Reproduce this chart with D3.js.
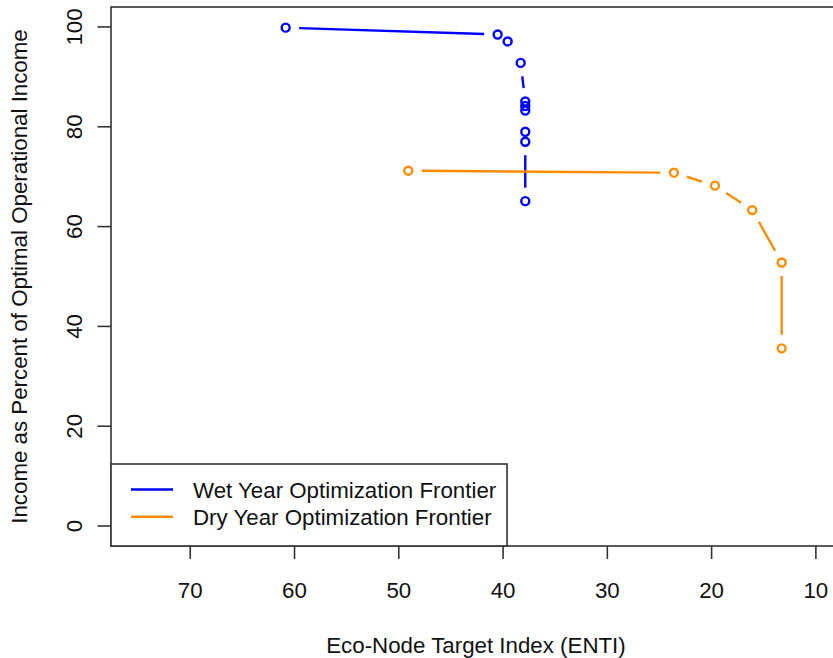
<!DOCTYPE html>
<html lang="en">
<head>
<meta charset="UTF-8">
<title>Optimization Frontier</title>
<style>
body { margin: 0; background: #fff; }
text {
  font-family: "Liberation Sans", Arial, Helvetica, sans-serif;
  font-size: 22.3px;
  fill: #111;
}
.frame { fill: none; stroke: #333; stroke-width: 1.6px; }
.tick { stroke: #333; stroke-width: 1.6px; }
.seg { fill: none; stroke-width: 2.4px; }
.pt { fill: none; stroke-width: 2.4px; }
</style>
</head>
<body>
<script src="https://d3js.org/d3.v7.min.js"></script>
<script>
// data
var wetX = [60.85, 40.52, 39.56, 38.31, 37.87, 37.87, 37.87, 37.87, 37.87, 37.87];
var wetY = [99.86, 98.5, 97.1, 92.8, 85.07, 84.17, 83.27, 79.0, 77.0, 65.1];
var dryX = [49.09, 23.61, 19.68, 16.1, 13.28, 13.28];
var dryY = [71.2, 70.8, 68.2, 63.3, 52.8, 35.6];
var xTicks = [70, 60, 50, 40, 30, 20, 10];
var yTicks = [0, 20, 40, 60, 80, 100];
var seriesNames = ["Wet Year Optimization Frontier", "Dry Year Optimization Frontier"];
var seriesColors = ["#0000ff", "#ff8c00"];

var width = 833, height = 658;
// plot box (right side falls outside the window)
var boxL = 111, boxT = 7, boxR = 843, boxB = 546;
var gap = 13.5; // type="b" style gap around points

var svg = d3.select("body").append("svg")
    .attr("width", width)
    .attr("height", height);

// xlim c(75,10), ylim c(0,100) with 4% padding
var x = d3.scaleLinear().domain([77.6, 7.4]).range([boxL, boxR]);
var y = d3.scaleLinear().domain([-4, 104]).range([boxB, boxT]);

var series = [
  { name: seriesNames[0], color: seriesColors[0], pts: d3.zip(wetX, wetY) },
  { name: seriesNames[1], color: seriesColors[1], pts: d3.zip(dryX, dryY) }
];

function segments(pts) {
  var out = [];
  for (var i = 0; i < pts.length - 1; i++) {
    var x0 = x(pts[i][0]), y0 = y(pts[i][1]),
        x1 = x(pts[i + 1][0]), y1 = y(pts[i + 1][1]);
    var dx = x1 - x0, dy = y1 - y0, len = Math.sqrt(dx * dx + dy * dy);
    if (len <= 2 * gap) continue;
    var ux = dx / len, uy = dy / len;
    out.push([x0 + ux * gap, y0 + uy * gap, x1 - ux * gap, y1 - uy * gap]);
  }
  return out;
}

var plot = svg.append("g");

series.forEach(function(s) {
  plot.selectAll(null)
    .data(segments(s.pts))
    .enter().append("line")
      .attr("class", "seg")
      .attr("stroke", s.color)
      .attr("x1", function(d) { return d[0]; })
      .attr("y1", function(d) { return d[1]; })
      .attr("x2", function(d) { return d[2]; })
      .attr("y2", function(d) { return d[3]; });

  plot.selectAll(null)
    .data(s.pts)
    .enter().append("circle")
      .attr("class", "pt")
      .attr("stroke", s.color)
      .attr("r", 4)
      .attr("cx", function(d) { return x(d[0]); })
      .attr("cy", function(d) { return y(d[1]); });
});

svg.append("rect")
    .attr("class", "frame")
    .attr("x", boxL)
    .attr("y", boxT)
    .attr("width", boxR - boxL)
    .attr("height", boxB - boxT);

// x axis
svg.selectAll(".xtick")
  .data(xTicks)
  .enter().append("line")
    .attr("class", "tick")
    .attr("x1", function(d) { return x(d); })
    .attr("x2", function(d) { return x(d); })
    .attr("y1", boxB)
    .attr("y2", boxB + 13);

svg.selectAll(".xlab")
  .data(xTicks)
  .enter().append("text")
    .attr("x", function(d) { return x(d); })
    .attr("y", 598)
    .attr("text-anchor", "middle")
    .text(function(d) { return d; });

// y axis
svg.selectAll(".ytick")
  .data(yTicks)
  .enter().append("line")
    .attr("class", "tick")
    .attr("x1", boxL)
    .attr("x2", boxL - 13.5)
    .attr("y1", function(d) { return y(d); })
    .attr("y2", function(d) { return y(d); });

svg.selectAll(".ylab")
  .data(yTicks)
  .enter().append("text")
    .attr("transform", function(d) { return "translate(82," + y(d) + ")rotate(-90)"; })
    .attr("text-anchor", "middle")
    .text(function(d) { return d; });

svg.append("text")
    .attr("x", (boxL + boxR) / 2 - 1)
    .attr("y", 653)
    .attr("text-anchor", "middle")
    .text("Eco-Node Target Index (ENTI)");

svg.append("text")
    .attr("transform", "translate(27," + (boxT + boxB) / 2 + ")rotate(-90)")
    .attr("text-anchor", "middle")
    .text("Income as Percent of Optimal Operational Income");

// legend
var legend = svg.append("g");
legend.append("rect")
    .attr("x", boxL)
    .attr("y", 464)
    .attr("width", 396)
    .attr("height", boxB - 464)
    .attr("fill", "#fff")
    .attr("stroke", "#333")
    .attr("stroke-width", 1.6);

var item = legend.selectAll(".item")
  .data(series)
  .enter().append("g")
    .attr("transform", function(d, i) { return "translate(0," + (489.5 + i * 27.3) + ")"; });

item.append("line")
    .attr("x1", 131)
    .attr("x2", 173)
    .attr("stroke", function(d) { return d.color; })
    .attr("stroke-width", 2.4);

item.append("text")
    .attr("x", 193)
    .attr("dy", "0.36em")
    .text(function(d) { return d.name; });
</script>
</body>
</html>
